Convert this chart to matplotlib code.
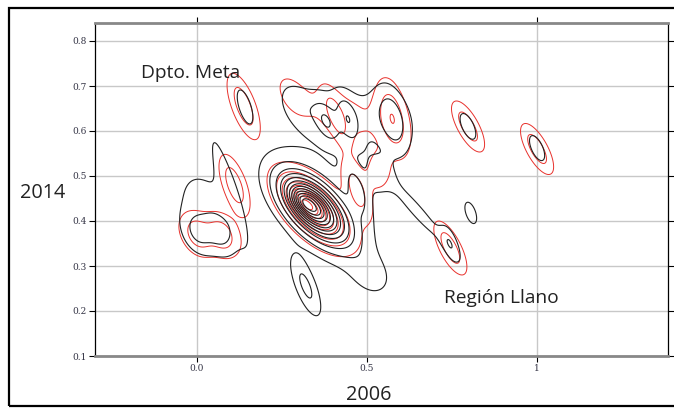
import matplotlib

matplotlib.use("Agg")

import matplotlib.pyplot as plt
import numpy as np
from matplotlib.patches import Rectangle

# kernel components: centre x, centre y, spread x, spread y, correlation, height (in contour steps)
BLACK_X = [0.35, 0.34, 0.325, 0.31, 0.38, 0.45, 0.38, 0.445, 0.575, 0.30, 0.47, 0.54, 0.65, 0.745, 0.805, 0.797,
           1.0, 0.32, 0.51, 0.0, 0.07, 0.03, 0.09, 0.14]
BLACK_Y = [0.425, 0.432, 0.438, 0.444, 0.50, 0.635, 0.62, 0.625, 0.625, 0.66, 0.47, 0.50, 0.42, 0.35, 0.418, 0.61,
           0.562, 0.255, 0.28, 0.375, 0.375, 0.42, 0.48, 0.655]
BLACK_SX = [0.076, 0.053, 0.034, 0.019, 0.12, 0.13, 0.025, 0.022, 0.032, 0.035, 0.025, 0.03, 0.07, 0.02, 0.016, 0.02,
            0.02, 0.03, 0.045, 0.03, 0.03, 0.065, 0.045, 0.018]
BLACK_SY = [0.058, 0.041, 0.026, 0.015, 0.12, 0.05, 0.03, 0.035, 0.05, 0.03, 0.04, 0.03, 0.06, 0.03, 0.022, 0.025,
            0.025, 0.045, 0.035, 0.03, 0.03, 0.07, 0.1, 0.03]
BLACK_RHO = [-0.6, -0.6, -0.55, -0.5, -0.4, -0.2, -0.5, -0.5, -0.4, -0.5, -0.6, 0.0, -0.95, -0.6, -0.5, -0.6,
             -0.6, -0.7, -0.3, -0.3, -0.3, -0.4, -0.9, -0.6]
BLACK_AMP = [6.5, 4.0, 2.5, 1.0, 0.45, 1.0, 1.8, 1.6, 1.9, 0.8, 1.8, 1.0, 1.0, 1.4, 1.25, 1.3,
             1.3, 2.0, 1.0, 1.4, 1.4, 1.2, 1.0, 1.3]

RED_X = [0.345, 0.335, 0.32, 0.305, 0.42, 0.575, 0.41, 0.28, 0.137, 0.797, 1.0, 0.745, 0.11, 0.0, 0.075, 0.04,
         0.47, 0.535]
RED_Y = [0.425, 0.432, 0.438, 0.444, 0.64, 0.63, 0.63, 0.68, 0.655, 0.61, 0.56, 0.34, 0.48, 0.37, 0.37, 0.37,
         0.47, 0.51]
RED_SX = [0.068, 0.048, 0.031, 0.017, 0.1, 0.032, 0.025, 0.03, 0.03, 0.03, 0.03, 0.03, 0.028, 0.03, 0.03, 0.07,
          0.03, 0.025]
RED_SY = [0.052, 0.037, 0.024, 0.013, 0.05, 0.055, 0.04, 0.03, 0.045, 0.035, 0.035, 0.037, 0.042, 0.03, 0.03, 0.04,
          0.045, 0.03]
RED_RHO = [-0.6, -0.6, -0.55, -0.5, -0.5, -0.4, -0.7, -0.5, -0.65, -0.7, -0.7, -0.7, -0.6, -0.3, -0.3, -0.4,
           -0.6, 0.0]
RED_AMP = [5.0, 3.0, 2.0, 1.0, 1.0, 2.5, 1.6, 1.0, 2.6, 2.6, 2.6, 2.6, 2.6, 1.8, 1.8, 0.8,
           2.2, 1.3]

X_TICKS = [0.0, 0.5, 1.0]
X_TICK_LABELS = ["0.0", "0.5", "1"]
Y_TICKS = [0.1, 0.2, 0.3, 0.4, 0.5, 0.6, 0.7, 0.8]
Y_TICK_LABELS = ["0.1", "0.2", "0.3", "0.4", "0.5", "0.6", "0.7", "0.8"]


def density(gx, gy, xs, ys, sxs, sys_, rhos, amps):
    z = np.zeros_like(gx)
    for x0, y0, sx, sy, r, a in zip(xs, ys, sxs, sys_, rhos, amps):
        u = (gx - x0) / sx
        v = (gy - y0) / sy
        q = (u * u - 2 * r * u * v + v * v) / (1 - r * r)
        z += a * np.exp(-0.5 * q)
    return z


gx, gy = np.meshgrid(np.linspace(-0.3, 1.385, 600), np.linspace(0.1, 0.84, 420))
z_black = density(gx, gy, BLACK_X, BLACK_Y, BLACK_SX, BLACK_SY, BLACK_RHO, BLACK_AMP)
z_red = density(gx, gy, RED_X, RED_Y, RED_SX, RED_SY, RED_RHO, RED_AMP)

fig = plt.figure(figsize=(6.74, 4.12), dpi=100)
ax = fig.add_axes([95 / 674, 1 - 356 / 412, (668 - 95) / 674, (356 - 23) / 412])

ax.contour(gx, gy, z_red, levels=np.arange(0.7, 14, 1.0), colors="#e8312c", linewidths=0.7)
ax.contour(gx, gy, z_black, levels=np.arange(0.7, 18, 1.0), colors="#222222", linewidths=0.8)

ax.set_xlim(-0.3, 1.385)
ax.set_ylim(0.1, 0.84)
ax.set_xticks(X_TICKS)
ax.set_xticklabels(X_TICK_LABELS, family="DejaVu Serif", fontsize=6.5, color="#333344")
ax.set_yticks(Y_TICKS)
ax.set_yticklabels(Y_TICK_LABELS, family="DejaVu Serif", fontsize=6.5, color="#333344")
ax.tick_params(direction="out", length=4, width=0.8, top=True, right=True, pad=2)
ax.grid(color="#c8c8c8", linewidth=1.0)
ax.set_axisbelow(True)

for side in ["top", "bottom"]:
    ax.spines[side].set_color("#888888")
    ax.spines[side].set_linewidth(2)
for side in ["left", "right"]:
    ax.spines[side].set_color("black")
    ax.spines[side].set_linewidth(0.9)

ax.text(-0.02, 0.728, "Dpto. Meta", family="Open Sans", fontsize=13.8, ha="center", va="center", color="#222222")
ax.text(0.895, 0.229, "Región Llano", family="Open Sans", fontsize=13.8, ha="center", va="center", color="#222222")

fig.text(43 / 674, 1 - 193 / 412, "2014", family="Open Sans", fontsize=14.3, ha="center", va="center", color="#222222")
fig.text(369 / 674, 1 - 395 / 412, "2006", family="Open Sans", fontsize=14.3, ha="center", va="center", color="#222222")

fig.patches.append(Rectangle((9 / 674, 1 - 406 / 412), 1.2, 398 / 412, transform=fig.transFigure,
                             fill=False, edgecolor="black", linewidth=1.6))

fig.savefig("out.png", dpi=100)
plt.close(fig)
